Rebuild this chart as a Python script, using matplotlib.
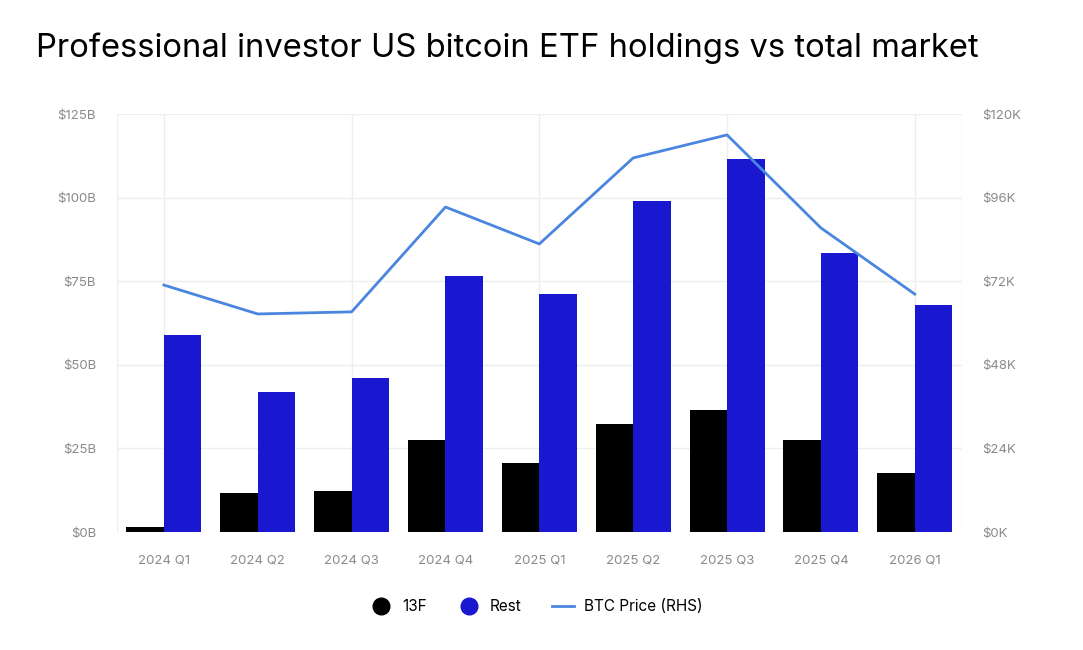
import matplotlib
matplotlib.use("Agg")
import matplotlib.pyplot as plt
import numpy as np
from matplotlib.lines import Line2D

quarters = ["2024 Q1","2024 Q2","2024 Q3","2024 Q4","2025 Q1","2025 Q2","2025 Q3","2025 Q4","2026 Q1"]
f13 = [1.5, 11.7, 12.3, 27.5, 20.6, 32.3, 36.5, 27.5, 17.6]
rest = [58.9, 41.9, 46.1, 76.6, 71.2, 99.0, 111.5, 83.4, 67.9]
btc = [70.9, 62.6, 63.2, 93.3, 82.7, 107.4, 114.0, 87.3, 68.3]

plt.rcParams['font.family'] = ['Inter', 'DejaVu Sans']
fig = plt.figure(figsize=(10.83, 6.5), dpi=100)
ax = fig.add_axes([0.108, 0.1815, 0.78, 0.6431])
x = np.arange(len(quarters))
w = 0.4
ax.bar(x - w/2, f13, w, color='black', zorder=3)
ax.bar(x + w/2, rest, w, color='#1a17d0', zorder=3)
ax.set_ylim(0, 125)
ax.set_xlim(-0.5, len(quarters) - 0.5)
ax.set_yticks([0, 25, 50, 75, 100, 125])
ax.set_yticklabels([f"${v}B" for v in [0, 25, 50, 75, 100, 125]])
ax.set_xticks(x)
ax.set_xticklabels(quarters)
ax.grid(axis='y', color='#eeeeee', lw=1, zorder=0)
for b in [-0.5, 0, 2, 4, 6, 8, 8.5]:
    ax.axvline(b, color='#eeeeee', lw=1, zorder=0)
for s in ax.spines.values():
    s.set_visible(False)
ax.tick_params(length=0, colors='#8a8a8a', labelsize=9.5, pad=15)
ax.tick_params(axis='x', pad=16)

ax2 = ax.twinx()
ax2.plot(x, btc, color='#4a86e0', lw=2, zorder=4)
ax2.set_ylim(0, 120)
ax2.set_yticks([0, 24, 48, 72, 96, 120])
ax2.set_yticklabels([f"${v}K" for v in [0, 24, 48, 72, 96, 120]])
for s in ax2.spines.values():
    s.set_visible(False)
ax2.tick_params(length=0, colors='#8a8a8a', labelsize=9.5, pad=15)

fig.text(0.033, 0.912, "Professional investor US bitcoin ETF holdings vs total market",
         fontsize=23.6, color='black', va='baseline')

handles = [Line2D([], [], marker='o', ls='', color='black', markersize=12),
           Line2D([], [], marker='o', ls='', color='#1a17d0', markersize=12),
           Line2D([], [], color='#4a86e0', lw=2)]
fig.legend(handles, ["13F", "Rest", "BTC Price (RHS)"], loc='center', bbox_to_anchor=(0.495, 0.067),
           ncol=3, frameon=False, fontsize=11, handlelength=1.5, columnspacing=2.0, handletextpad=0.6)
fig.savefig("out.png", dpi=100, facecolor='white')
